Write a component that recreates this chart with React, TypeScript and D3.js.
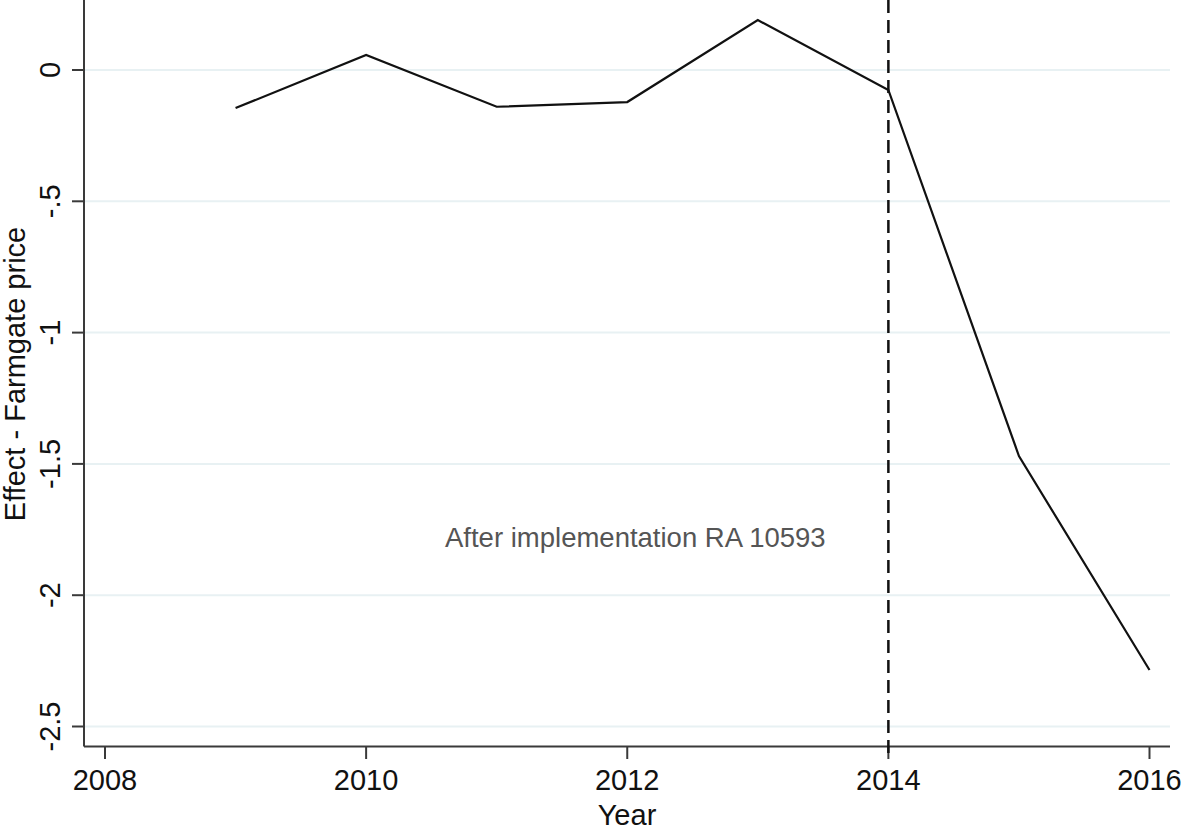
import { useEffect, useRef } from 'react';
import * as d3 from 'd3';

const years = [2009, 2010, 2011, 2012, 2013, 2014, 2015, 2016];
const effects = [-0.145, 0.057, -0.14, -0.122, 0.19, -0.076, -1.47, -2.285];
const xTicks = [2008, 2010, 2012, 2014, 2016];
const yTicks = [0, -0.5, -1, -1.5, -2, -2.5];
const yTickLabels = ['0', '-.5', '-1', '-1.5', '-2', '-2.5'];
const cutoffYear = 2014;
const noteText = 'After implementation RA 10593';

const W = 1187;
const H = 834;

export default function App() {
  const svgRef = useRef<SVGSVGElement>(null);

  useEffect(() => {
    if (!svgRef.current) return;
    const svg = d3.select(svgRef.current);
    svg.selectAll('*').remove();

    const font = '"Liberation Sans", Arial, Helvetica, sans-serif';
    const left = 84;
    const right = 1170;
    const bottom = 746.5;

    const x = d3.scaleLinear().domain([2008, 2016]).range([105, 1149.5]);
    const y = d3.scaleLinear().domain([-2.5, 0]).range([726.5, 70]);

    svg.append('rect').attr('width', W).attr('height', H).attr('fill', '#fff');

    // gridlines
    svg.append('g')
      .selectAll('line')
      .data(yTicks)
      .enter()
      .append('line')
      .attr('x1', left)
      .attr('x2', right)
      .attr('y1', d => y(d))
      .attr('y2', d => y(d))
      .attr('stroke', '#e8f1f3')
      .attr('stroke-width', 2);

    // y axis
    const yAxis = svg.append('g');
    yAxis.append('line')
      .attr('x1', left).attr('x2', left)
      .attr('y1', 0).attr('y2', bottom)
      .attr('stroke', '#3a3a3a').attr('stroke-width', 2);
    yAxis.selectAll('line.tick')
      .data(yTicks)
      .enter()
      .append('line')
      .attr('class', 'tick')
      .attr('x1', 72).attr('x2', left)
      .attr('y1', d => y(d)).attr('y2', d => y(d))
      .attr('stroke', '#3a3a3a').attr('stroke-width', 2);
    yAxis.selectAll('text')
      .data(yTicks)
      .enter()
      .append('text')
      .attr('transform', d => `translate(60, ${y(d)}) rotate(-90)`)
      .attr('text-anchor', 'middle')
      .attr('font-family', font)
      .attr('font-size', 29)
      .attr('fill', '#111')
      .text((d, i) => yTickLabels[i]);

    // x axis
    const xAxis = svg.append('g');
    xAxis.append('line')
      .attr('x1', left).attr('x2', right)
      .attr('y1', bottom).attr('y2', bottom)
      .attr('stroke', '#3a3a3a').attr('stroke-width', 2);
    xAxis.selectAll('line.tick')
      .data(xTicks)
      .enter()
      .append('line')
      .attr('class', 'tick')
      .attr('x1', d => x(d)).attr('x2', d => x(d))
      .attr('y1', bottom).attr('y2', 759)
      .attr('stroke', '#3a3a3a').attr('stroke-width', 2);
    xAxis.selectAll('text')
      .data(xTicks)
      .enter()
      .append('text')
      .attr('x', d => x(d))
      .attr('y', 790)
      .attr('text-anchor', 'middle')
      .attr('font-family', font)
      .attr('font-size', 29)
      .attr('fill', '#111')
      .text(d => d.toString());

    // axis titles
    svg.append('text')
      .attr('transform', `translate(25, 374) rotate(-90)`)
      .attr('text-anchor', 'middle')
      .attr('font-family', font)
      .attr('font-size', 29)
      .attr('fill', '#111')
      .text('Effect - Farmgate price');

    svg.append('text')
      .attr('x', 627)
      .attr('y', 825)
      .attr('text-anchor', 'middle')
      .attr('font-family', font)
      .attr('font-size', 29)
      .attr('fill', '#111')
      .text('Year');

    // cutoff line
    svg.append('line')
      .attr('x1', x(cutoffYear)).attr('x2', x(cutoffYear))
      .attr('y1', 0).attr('y2', 759)
      .attr('stroke', '#111')
      .attr('stroke-width', 2.5)
      .attr('stroke-dasharray', '13,7');

    // annotation
    svg.append('text')
      .attr('x', 445)
      .attr('y', 547)
      .attr('text-anchor', 'start')
      .attr('font-family', font)
      .attr('font-size', 27.5)
      .attr('fill', '#555')
      .text(noteText);

    // series
    const line = d3.line<number>()
      .x((d, i) => x(years[i]))
      .y(d => y(d));
    svg.append('path')
      .datum(effects)
      .attr('d', line)
      .attr('fill', 'none')
      .attr('stroke', '#111')
      .attr('stroke-width', 2.2);
  }, []);

  return (
    <div style={{ position: 'absolute', left: 0, top: 0 }}>
      <svg ref={svgRef} width={W} height={H} style={{ display: 'block' }} />
    </div>
  );
}
